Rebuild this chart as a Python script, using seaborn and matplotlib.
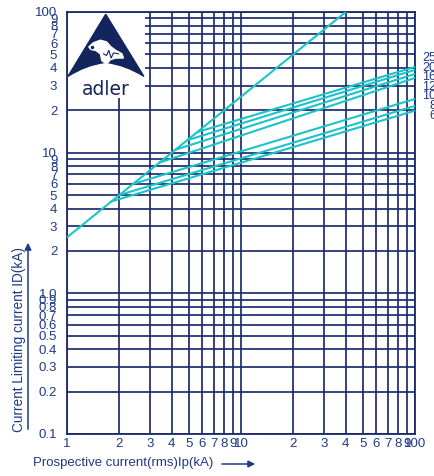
import numpy as np
import pandas as pd
import matplotlib
matplotlib.use("Agg")
import matplotlib.pyplot as plt
import seaborn as sns
from matplotlib.patches import Polygon, PathPatch
from matplotlib.path import Path
from matplotlib.ticker import NullLocator

# ---------------- data ----------------
ratings = ["250", "200", "160", "125", "100", "80", "63"]
ip_start = [5.6, 4.9, 4.2, 3.4, 2.4, 2.0, 1.8]
id_start = [14.0, 12.25, 10.5, 8.5, 6.0, 5.0, 4.5]
ip_end = [100, 100, 100, 100, 100, 100, 100]
id_end = [40.7, 38.8, 36.3, 34.0, 24.1, 21.5, 19.9]
peak_ip = [1.0, 40.0]
peak_id = [2.5, 100.0]

x_ticks = [1, 2, 3, 4, 5, 6, 7, 8, 9, 10, 20, 30, 40, 50, 60, 70, 80, 90, 100]
x_labels = ["1", "2", "3", "4", "5", "6", "7", "8", "9", "10",
            "2", "3", "4", "5", "6", "7", "8", "9", "100"]
y_ticks = [0.1, 0.2, 0.3, 0.4, 0.5, 0.6, 0.7, 0.8, 0.9, 1.0,
           2, 3, 4, 5, 6, 7, 8, 9, 10, 20, 30, 40, 50, 60, 70, 80, 90, 100]
y_labels = ["0.1", "0.2", "0.3", "0.4", "0.5", "0.6", "0.7", "0.8", "0.9", "1.0",
            "2", "3", "4", "5", "6", "7", "8", "9", "10",
            "2", "3", "4", "5", "6", "7", "8", "9", "100"]

# ---------------- style ----------------
W, H = 435, 476
NAVY = "#1b2a6b"
TXT = "#1f3a86"
CYAN = "#1cc3c9"

sns.set_style("white")
plt.rcParams["font.family"] = ["Liberation Sans", "DejaVu Sans"]

fig = plt.figure(figsize=(W / 100, H / 100), dpi=100)

def fx(px):
    return px / W

def fy(py):
    return 1 - py / H

ax_l, ax_r, ax_t, ax_b = 67, 415, 12, 434
ax = fig.add_axes([fx(ax_l), fy(ax_b), fx(ax_r - ax_l), (ax_b - ax_t) / H])
ax.set_xscale("log")
ax.set_yscale("log")

rows = []
for r, x0, y0, x1, y1 in zip(ratings, ip_start, id_start, ip_end, id_end):
    rows.append({"rating": r, "order": 0, "ip": x0, "id": y0})
    rows.append({"rating": r, "order": 1, "ip": x1, "id": y1})
for i, (x, y) in enumerate(zip(peak_ip, peak_id)):
    rows.append({"rating": "peak", "order": i, "ip": x, "id": y})
df = pd.DataFrame(rows)

pal = {r: CYAN for r in df["rating"].unique()}
sns.lineplot(data=df, x="ip", y="id", hue="rating", units="rating",
             estimator=None, sort=False, palette=pal, legend=False,
             linewidth=1.5, ax=ax, zorder=3)

ax.set_xlim(1, 100)
ax.set_ylim(0.1, 100)
ax.set_xticks(x_ticks)
ax.set_xticklabels(x_labels)
ax.set_yticks(y_ticks)
ax.set_yticklabels(y_labels)
ax.xaxis.set_minor_locator(NullLocator())
ax.yaxis.set_minor_locator(NullLocator())
ax.grid(True, which="major", color=NAVY, linewidth=1.3, alpha=0.95, zorder=1)
ax.set_axisbelow(True)
ax.tick_params(axis="both", length=0, labelsize=9.5, labelcolor=TXT)
ax.tick_params(axis="y", pad=7)
ax.tick_params(axis="x", pad=3)
for s in ax.spines.values():
    s.set_color(NAVY)
    s.set_linewidth(1.3)
ax.set_xlabel("")
ax.set_ylabel("")

# rating labels at right edge (clipped by figure edge like the reference)
lab_top, lab_step = 58, 9.6
for i, r in enumerate(ratings):
    fig.text(fx(443), fy(lab_top + i * lab_step), r, ha="right", va="center",
             fontsize=9, color=TXT)

# axis titles with arrows
fig.text(fx(33), fy(463), "Prospective current(rms)Ip(kA)", ha="left", va="center",
         fontsize=9.5, color=TXT)
fig.add_artist(matplotlib.patches.FancyArrowPatch(
    (fx(219), fy(464)), (fx(258), fy(464)), transform=fig.transFigure,
    arrowstyle="-|>,head_length=4,head_width=2", color=TXT, lw=1.1))

fig.text(fx(19), fy(339), "Current Limiting current ID(kA)", rotation=90,
         ha="center", va="center", fontsize=9.8, color=TXT)
fig.add_artist(matplotlib.patches.FancyArrowPatch(
    (fx(28), fy(432)), (fx(28), fy(240)), transform=fig.transFigure,
    arrowstyle="-|>,head_length=4,head_width=2", color=TXT, lw=1.1))

# ---------------- logo ----------------
lg = fig.add_axes([fx(68), fy(98), fx(145 - 68), (98 - 13) / H])
lg.set_xlim(0, 1)
lg.set_ylim(0, 1)
lg.set_facecolor("white")
lg.axis("off")
lg.add_patch(matplotlib.patches.Rectangle((0, 0), 1, 1, color="white", zorder=0))
LOGO = "#14245c"
verts = [(0.49, 0.985), (0.985, 0.255), (0.75, 0.39), (0.49, 0.42),
         (0.23, 0.39), (0.0, 0.255), (0.49, 0.985)]
codes = [Path.MOVETO, Path.LINETO, Path.CURVE3, Path.CURVE3, Path.CURVE3, Path.CURVE3, Path.CLOSEPOLY]
lg.add_patch(PathPatch(Path(verts, codes), color=LOGO, zorder=1))
# eagle head (white)
eagle = [(0.27, 0.60), (0.33, 0.65), (0.42, 0.68), (0.50, 0.66), (0.56, 0.60),
         (0.62, 0.56), (0.70, 0.52), (0.72, 0.47), (0.62, 0.47), (0.55, 0.45),
         (0.50, 0.40), (0.44, 0.44), (0.42, 0.52), (0.36, 0.56), (0.30, 0.57)]
lg.add_patch(Polygon(eagle, closed=True, color="white", zorder=2))
lg.plot([0.46, 0.50, 0.53, 0.56, 0.59, 0.66], [0.52, 0.50, 0.56, 0.47, 0.53, 0.52],
        color=LOGO, lw=0.8, zorder=3)
lg.plot([0.31], [0.60], marker="o", ms=1.5, color=LOGO, zorder=3)
lg.text(0.49, 0.10, "adler", ha="center", va="center", fontsize=13.5,
        color=LOGO, family="DejaVu Sans")

fig.savefig("out.png", dpi=100)
